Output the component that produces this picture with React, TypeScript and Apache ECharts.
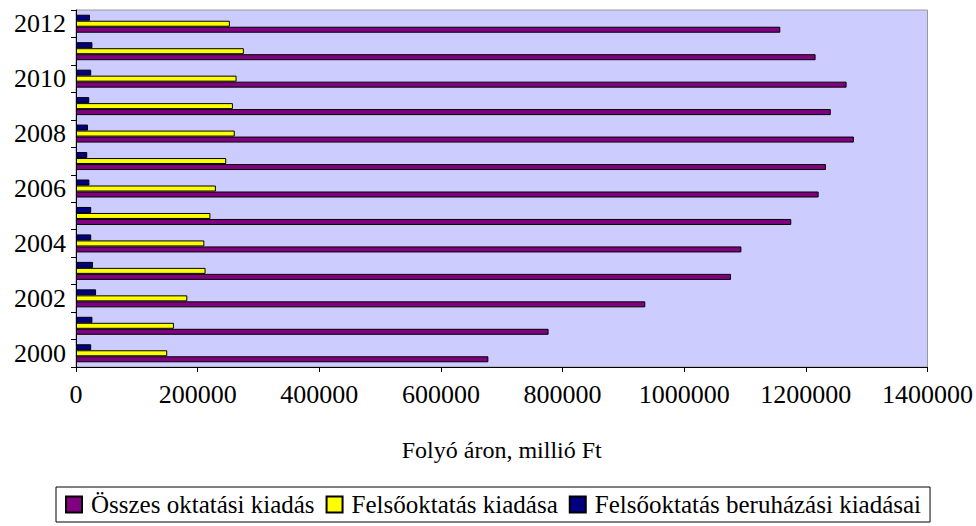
import React, { useEffect, useRef } from "react";
import * as echarts from "echarts";

const years = ["2000", "2001", "2002", "2003", "2004", "2005", "2006", "2007", "2008", "2009", "2010", "2011", "2012"];
const osszes = [678000, 777000, 936000, 1077000, 1094000, 1176000, 1221000, 1233000, 1279000, 1241000, 1267000, 1216000, 1158000];
const felso = [150000, 161000, 183000, 213000, 211000, 221000, 230000, 247000, 261000, 258000, 264000, 276000, 253000];
const beruh = [25000, 27000, 33000, 28000, 25000, 25000, 22000, 18500, 19700, 21800, 25000, 27000, 23000];
const seriesNames = ["Összes oktatási kiadás", "Felsőoktatás kiadása", "Felsőoktatás beruházási kiadásai"];
const xTicks = { min: 0, max: 1400000, interval: 200000 };
const axisTitle = "Folyó áron, millió Ft";

const FONT = "Liberation Serif";

export default function App() {
  const ref = useRef<HTMLDivElement>(null);
  useEffect(() => {
    document.body.style.margin = "0";
    const chart = echarts.init(ref.current!, null, { renderer: "svg" });
    const barStyle = (color: string) => ({ color, borderColor: "#000", borderWidth: 1 });
    chart.setOption({
      animation: false,
      backgroundColor: "#fff",
      textStyle: { fontFamily: FONT, color: "#000" },
      grid: {
        left: 76,
        right: 47,
        top: 10,
        bottom: 159,
        show: true,
        backgroundColor: "#CCCCFF",
        borderColor: "#999",
        borderWidth: 1,
      },
      xAxis: {
        type: "value",
        min: xTicks.min,
        max: xTicks.max,
        interval: xTicks.interval,
        name: axisTitle,
        nameLocation: "middle",
        nameGap: 71,
        nameTextStyle: { fontFamily: FONT, fontSize: 24, color: "#000" },
        axisLine: { show: true, lineStyle: { color: "#000", width: 1 } },
        axisTick: { show: true, inside: false, length: 5, lineStyle: { color: "#000" } },
        axisLabel: {
          fontFamily: FONT,
          fontSize: 26,
          color: "#000",
          margin: 14,
          formatter: (v: number) => String(v),
        },
        splitLine: { show: false },
      },
      yAxis: {
        type: "category",
        data: years,
        axisLine: { show: true, lineStyle: { color: "#000", width: 1 } },
        axisTick: { show: true, inside: false, length: 5, interval: 0, lineStyle: { color: "#000" } },
        axisLabel: { fontFamily: FONT, fontSize: 26, color: "#000", margin: 10, interval: 1 },
        splitLine: { show: false },
      },
      legend: {
        left: 56,
        top: 487,
        orient: "horizontal",
        padding: [5, 9, 5, 9],
        itemGap: 11,
        itemWidth: 16,
        itemHeight: 16,
        borderColor: "#000",
        borderWidth: 1,
        icon: "rect",
        textStyle: { fontFamily: FONT, fontSize: 25, color: "#000", padding: [0, 0, 0, 4] },
        data: seriesNames,
      },
      series: [
        {
          name: seriesNames[2],
          type: "bar",
          data: beruh,
          barWidth: 6,
          barGap: "0%",
          itemStyle: barStyle("#000080"),
        },
        {
          name: seriesNames[1],
          type: "bar",
          data: felso,
          barWidth: 6,
          barGap: "0%",
          itemStyle: barStyle("#FFFF00"),
        },
        {
          name: seriesNames[0],
          type: "bar",
          data: osszes,
          barWidth: 6,
          barGap: "0%",
          itemStyle: barStyle("#800080"),
        },
      ],
    });
    return () => chart.dispose();
  }, []);
  return <div ref={ref} style={{ width: 976, height: 526 }} />;
}
